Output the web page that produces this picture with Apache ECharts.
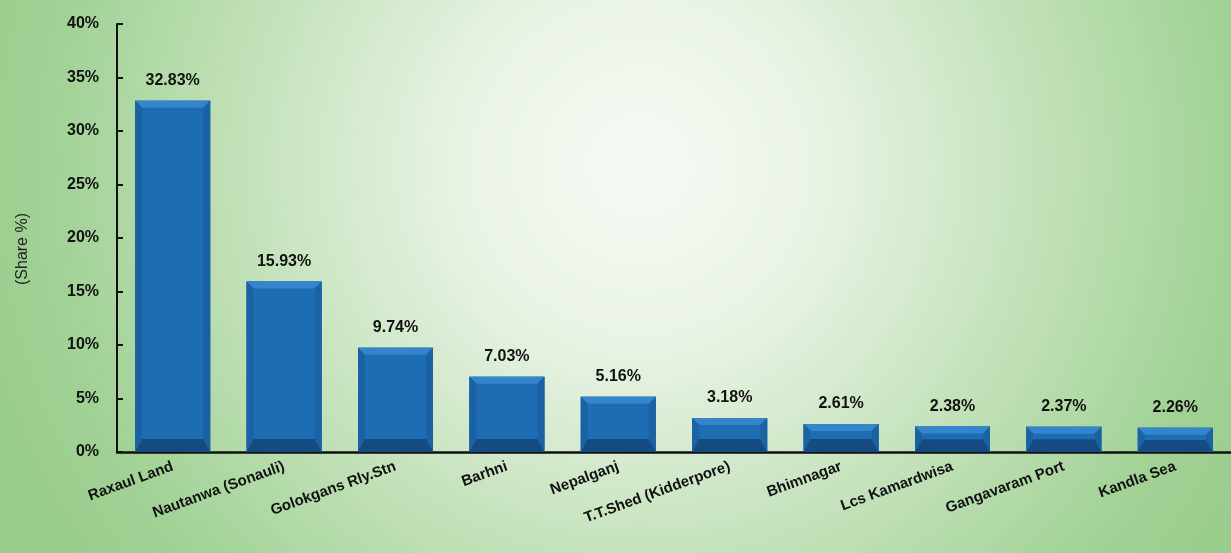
<!DOCTYPE html>
<html>
<head>
<meta charset="utf-8">
<script src="https://cdn.jsdelivr.net/npm/echarts@6/dist/echarts.min.js"></script>
<style>
html,body{margin:0;padding:0;background:#fff;}
#c{width:1231px;height:553px;}
</style>
</head>
<body>
<div id="c"></div>
<script>
const categories = ['Raxaul Land','Nautanwa (Sonauli)','Golokgans Rly.Stn','Barhni','Nepalganj','T.T.Shed (Kidderpore)','Bhimnagar','Lcs Kamardwisa','Gangavaram Port','Kandla Sea'];
const shares = [32.83, 15.93, 9.74, 7.03, 5.16, 3.18, 2.61, 2.38, 2.37, 2.26];
const yTicks = [0, 5, 10, 15, 20, 25, 30, 35, 40];

const chart = echarts.init(document.getElementById('c'), null, {renderer:'canvas'});
const FONT = 'Liberation Sans, Arial, sans-serif';
const BW = 75, BEV = 7;

function renderBevel(params, api) {
  const v = api.value(1);
  const top = api.coord([api.value(0), v]);
  const bot = api.coord([api.value(0), 0]);
  const x0 = top[0] - BW / 2, x1 = top[0] + BW / 2;
  const y0 = top[1], y1 = bot[1];
  const h = y1 - y0;
  const b = Math.min(BEV, h / 2);
  const bb = Math.min(13, h / 2);
  return {
    type: 'group',
    children: [
      {type:'rect', shape:{x:x0, y:y0, width:BW, height:h}, style:{fill:'#1e6db3'}},
      {type:'polygon', shape:{points:[[x0,y0],[x1,y0],[x1-b,y0+b],[x0+b,y0+b]]}, style:{fill:'#3585cc'}},
      {type:'polygon', shape:{points:[[x0,y0],[x0+b,y0+b],[x0+b,y1-bb],[x0,y1]]}, style:{fill:'#1b62a3'}},
      {type:'polygon', shape:{points:[[x1,y0],[x1-b,y0+b],[x1-b,y1-bb],[x1,y1]]}, style:{fill:'#1b62a3'}},
      {type:'polygon', shape:{points:[[x0,y1],[x0+b,y1-bb],[x1-b,y1-bb],[x1,y1]]}, style:{fill:'#154b80'}}
    ]
  };
}

chart.setOption({
  backgroundColor: {
    type:'radial', x:0.52, y:0.3, r:1.25,
    colorStops:[
      {offset:0, color:'#f6faf4'},
      {offset:0.25, color:'#eaf4e6'},
      {offset:0.55, color:'#c6e3bd'},
      {offset:0.85, color:'#a2d296'},
      {offset:1, color:'#99cd8c'}
    ]
  },
  animation:false,
  grid:{left:117, right:-8, top:24, bottom:101, containLabel:false},
  xAxis:{
    type:'category', data:categories,
    axisLine:{lineStyle:{color:'#111', width:2.5}},
    axisTick:{show:false},
    axisLabel:{rotate:20, interval:0, margin:14, color:'#111', fontWeight:'bold', fontSize:15, fontFamily:FONT}
  },
  yAxis:{
    type:'value', min:0, max:40, interval:5,
    name:'(Share %)', nameLocation:'middle', nameGap:86, nameRotate:90,
    nameTextStyle:{color:'#222', fontSize:16, fontFamily:FONT, padding:[0,22,0,0]},
    axisLine:{show:true, lineStyle:{color:'#111', width:2}},
    axisTick:{show:true, inside:true, length:6, lineStyle:{color:'#111', width:2}},
    splitLine:{show:false},
    axisLabel:{color:'#111', fontWeight:'bold', fontSize:16, fontFamily:FONT, margin:18,
      formatter: v => yTicks.includes(v) ? v + '%' : ''}
  },
  series:[
    {
      type:'bar', data:shares, barWidth:BW,
      itemStyle:{color:'#1e6db3'},
      label:{show:true, position:'top', distance:12, color:'#111', fontWeight:'bold', fontSize:16, fontFamily:FONT,
        formatter: p => p.value.toFixed(2) + '%'}
    },
    {
      type:'custom', silent:true, z:3,
      data: shares.map((v,i) => [i, v]),
      renderItem: renderBevel
    }
  ]
});
</script>
</body>
</html>
